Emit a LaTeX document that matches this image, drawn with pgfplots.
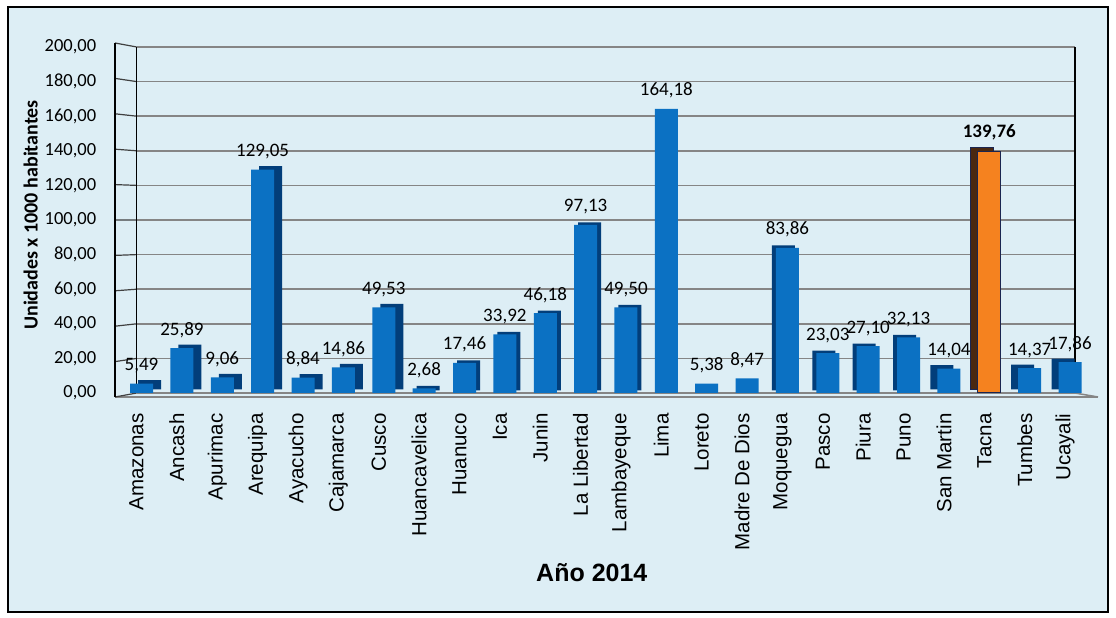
\documentclass[border=0pt]{standalone}
\usepackage{fontspec}
\setmainfont{Carlito}
\newfontfamily\arialf{Liberation Sans}
\usepackage{pgfplots}
\pgfplotsset{compat=1.18}
\definecolor{bg}{HTML}{DDEEF5}
\definecolor{barblue}{HTML}{0B71C3}
\definecolor{sideblue}{HTML}{023E7A}
\definecolor{tacna}{HTML}{F5821F}
\definecolor{tacnaside}{HTML}{4A2810}
\definecolor{navy}{HTML}{1A2550}
\definecolor{gridc}{HTML}{858585}
\begin{document}
\begin{tikzpicture}[x=1pt,y=1pt]
\fill[white] (0,0) rectangle (1116,618);
\draw[fill=bg, line width=1.5pt] (8,6) rectangle (1108,611);
% pseudo-3D front edge and floor
\draw[gridc, line width=1.5pt] (115,221) -- (1098,221);
\draw[gridc, line width=1.5pt] (1074.9,225) -- (1098,221);
\foreach \v in {0,20,...,200} {
  \draw[black!75, line width=1.2pt] (115,{221+\v*1.77}) -- (136.7,{225+\v*1.73});
}
\draw[black, line width=1.4pt] (115,221) -- (115,575);
\begin{axis}[
  at={(136.7pt,225pt)}, anchor=south west,
  scale only axis, width=938.2pt, height=346pt,
  xmin=-0.12, xmax=23.12, ymin=0, ymax=200,
  clip=false,
  separate axis lines,
  x axis line style={draw=none},
  y axis line style={black, line width=1.4pt},
  ymajorgrids, grid style={gridc, line width=1.6pt},
  major tick length=0pt,
  ytick={0,20,...,200},
  /pgf/number format/.cd, fixed, fixed zerofill, precision=2, use comma, 1000 sep={}, assume math mode=true,
  /pgfplots/.cd,
  yticklabel style={font=\fontsize{18.5}{22}\selectfont, xshift=-37pt, anchor=east},
  xtick={0,...,23},
  xticklabels={Amazonas,Ancash,Apurimac,Arequipa,Ayacucho,Cajamarca,Cusco,Huancavelica,Huanuco,Ica,Junin,La Libertad,Lambayeque,Lima,Loreto,Madre De Dios,Moquegua,Pasco,Piura,Puno,San Martin,Tacna,Tumbes,Ucayali},
  xticklabel style={font=\arialf\fontsize{20.5}{24}\selectfont, xshift=-5pt, yshift=-17pt, rotate=90, anchor=east},
  ylabel={Unidades x 1000 habitantes},
  ylabel style={font=\bfseries\fontsize{20}{24}\selectfont, at={(axis description cs:0,0.5)}, anchor=center, xshift=5pt, yshift=106pt},
  xlabel={Año 2014},
  xlabel style={font=\arialf\bfseries\fontsize{25}{30}\selectfont, at={(axis description cs:0.5,0)}, anchor=center, xshift=-14pt, yshift=-180pt},
  every node near coord/.append style={font=\fontsize{19}{22}\selectfont, yshift=7pt, black},
]
% side faces (drawn first)
\addplot[ybar, bar width=23pt, bar shift=8pt, fill=sideblue, draw=none, yshift=3.5pt, forget plot]
 coordinates {(0,5.49) (1,25.89) (2,9.06) (3,129.05) (4,8.84) (5,14.86) (6,49.53)};
\addplot[ybar, bar width=23pt, bar shift=4pt, fill=sideblue, draw=none, yshift=2.5pt, forget plot]
 coordinates {(7,2.68) (8,17.46) (9,33.92) (10,46.18) (11,97.13) (12,49.50)};
\addplot[ybar, bar width=23pt, bar shift=-4pt, fill=sideblue, draw=none, yshift=2.5pt, forget plot]
 coordinates {(16,83.86) (17,23.03) (18,27.10) (19,32.13)};
\addplot[ybar, bar width=23pt, bar shift=-7pt, fill=sideblue, draw=none, yshift=3.5pt, forget plot]
 coordinates {(20,14.04) (22,14.37) (23,17.86)};
\addplot[ybar, bar width=23pt, bar shift=-7pt, fill=tacnaside, draw=navy, line width=0.8pt, yshift=3.5pt, forget plot]
 coordinates {(21,139.76)};
% front faces
\addplot[ybar, bar width=23pt, bar shift=0pt, fill=barblue, draw=none,
  nodes near coords={\pgfmathprintnumber[fixed,fixed zerofill,precision=2,use comma,assume math mode=true]{\pgfplotspointmeta}}]
 coordinates {(0,5.49) (1,25.89) (2,9.06) (3,129.05) (4,8.84) (5,14.86) (6,49.53) (7,2.68) (8,17.46) (9,33.92) (10,46.18) (11,97.13) (12,49.50) (13,164.18) (14,5.38) (15,8.47) (16,83.86) (17,23.03) (18,27.10) (19,32.13) (20,14.04) (22,14.37) (23,17.86)};
\addplot[ybar, bar width=23pt, bar shift=0pt, fill=tacna, draw=navy, line width=1pt,
  nodes near coords={\bfseries\pgfmathprintnumber[fixed,fixed zerofill,precision=2,use comma,assume math mode=true]{\pgfplotspointmeta}}]
 coordinates {(21,139.76)};
\end{axis}
\end{tikzpicture}
\end{document}
